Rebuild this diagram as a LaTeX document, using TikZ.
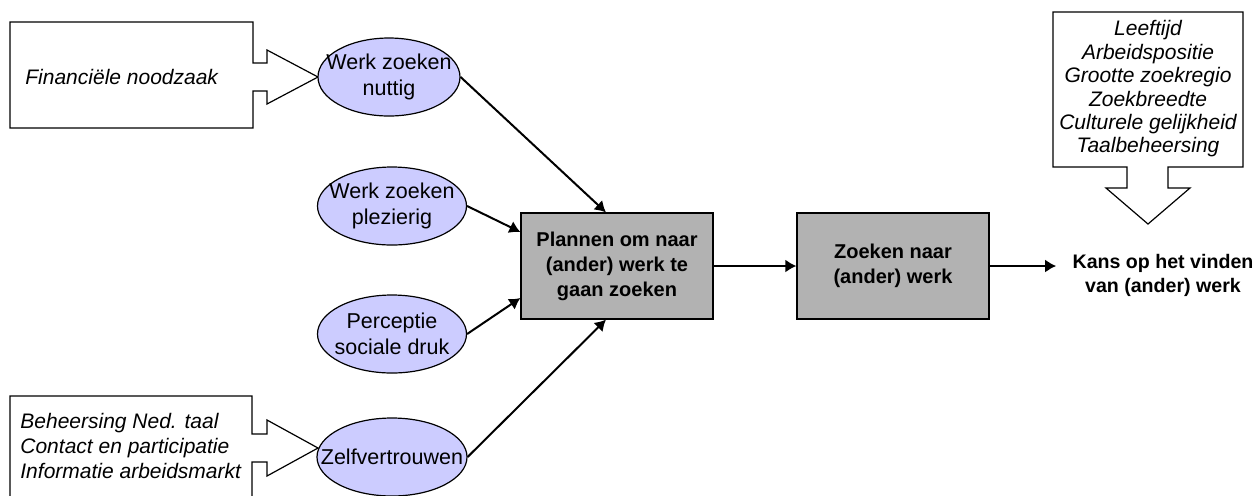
\documentclass[tikz,border=0pt]{standalone}
\usepackage{fontspec}
\setmainfont{Liberation Sans}
\usetikzlibrary{arrows.meta}
\usetikzlibrary{shapes}
\usetikzlibrary{calc}
\definecolor{blobfill}{RGB}{204,204,255}
\definecolor{stepfill}{RGB}{178,178,178}

\begin{document}
\begin{tikzpicture}[
  x=0.5pt, y=-0.5pt,
  blob/.style={ellipse, draw, line width=0.6pt, fill=blobfill, inner sep=0, minimum height=39pt},
  blobtext/.style={align=center, font=\fontsize{10.75}{13}\selectfont},
  stepbox/.style={rectangle, draw, line width=0.6pt, fill=stepfill,
    minimum width=96pt, minimum height=53pt, align=center,
    font=\bfseries\fontsize{10}{12.5}\selectfont},
  callout/.style={draw, line width=0.6pt, fill=white},
  factors/.style={inner sep=0, font=\itshape\fontsize{10.5}{12.5}\selectfont},
  flow/.style={line width=1pt, -{Latex[length=5.5pt,width=6.5pt]}}]
  \useasboundingbox (0,0) rectangle (1260,495);
  % callout boxes on the left
  \draw[callout] (318,77) -- ++(-51,27) -- ++(0,-13) -- ++(-14,0) -- (253,128) -- (10,128)
    -- (10,22) -- (253,22) -- (253,63) -- ++(14,0) -- ++(0,-13) -- cycle;
  \node[factors, anchor=west] (fin) at (25,77) {Financiële noodzaak};
  \draw[callout] (318,448) -- ++(-51,28) -- ++(0,-14) -- ++(-15,0) -- (252,500) -- (10,500)
    -- (10,396) -- (252,396) -- (252,434) -- ++(15,0) -- ++(0,-14) -- cycle;
  \node[factors, anchor=west, align=left] (skills) at (20,446)
    {Beheersing Ned. taal\\Contact en participatie\\Informatie arbeidsmarkt};
  % attitude ellipses
  \foreach \n/\x/\y/\w/\t in {1/389/77/142/{Werk zoeken\\nuttig},
                             2/392/206/149/{Werk zoeken\\plezierig},
                             3/392/334/149/{Perceptie\\sociale druk},
                             4/392/457/150/Zelfvertrouwen} {
    \node[blob, minimum width=\w*0.5pt] (e\n) at (\x,\y) {};
    \node[blobtext] (t\n) at (e\n) {\t};
  }
  % planning and search boxes
  \node[stepbox] (plan) at (617,266) {Plannen om naar\\(ander) werk te\\gaan zoeken};
  \node[stepbox] (search) at (893,266) {Zoeken naar\\(ander) werk};
  \node[align=center, inner xsep=8pt, font=\bfseries\fontsize{9.8}{12}\selectfont]
    (kans) at (1163,275) {Kans op het vinden\\van (ander) werk};
  % arrows into the planning box
  \draw[flow] (e1.east) -- ([xshift=-5.5pt]plan.north);
  \draw[flow] (e2.east) -- ([yshift=17pt]plan.west);
  \draw[flow] (e3.east) -- ([yshift=-16pt]plan.west);
  \draw[flow] (e4.east) -- ([xshift=-5.5pt]plan.south);
  \draw[flow] (plan) -- (search);
  \draw[flow] (search.east) -- (search.east -| kans.west);
  % callout box on the right
  \draw[callout] (1148,224) -- (1106,188) -- (1127,188) -- (1127,167) -- (1053,167)
    -- (1053,12) -- (1243,12) -- (1243,167) -- (1168,167) -- (1168,188) -- (1190,188) -- cycle;
  \node[factors, align=center, font=\itshape\fontsize{10.5}{11.7}\selectfont] (conds) at (1148,89)
    {Leeftijd\\Arbeidspositie\\Grootte zoekregio\\Zoekbreedte\\Culturele gelijkheid\\Taalbeheersing};
\end{tikzpicture}
\end{document}
